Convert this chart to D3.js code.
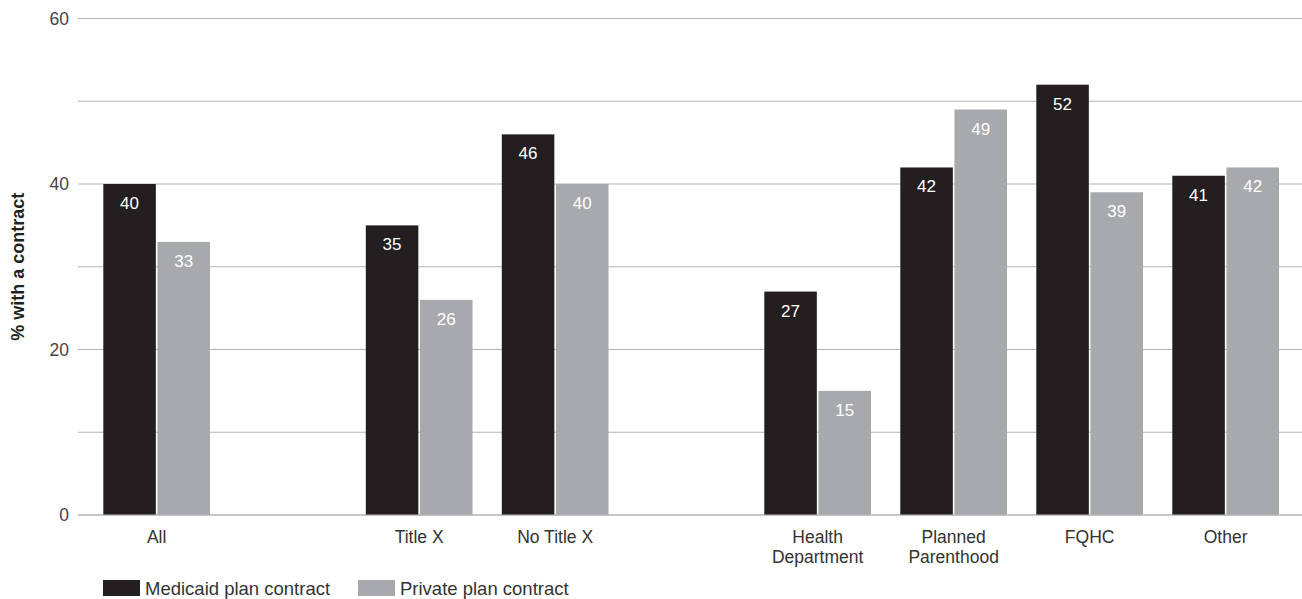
<!DOCTYPE html>
<html>
<head>
<meta charset="utf-8">
<script src="https://cdn.jsdelivr.net/npm/d3@7"></script>
<style>
  html, body { margin: 0; padding: 0; background: #fff; }
  svg { display: block; font-family: "Liberation Sans", Arial, sans-serif; }
</style>
</head>
<body>
<svg id="chart" width="1302" height="599"></svg>
<script>
// ---- data ----
const categories = ["All", "Title X", "No Title X", "Health Department", "Planned Parenthood", "FQHC", "Other"];
const categoryLines = [["All"], ["Title X"], ["No Title X"], ["Health", "Department"], ["Planned", "Parenthood"], ["FQHC"], ["Other"]];
const sectionOf = [0, 1, 1, 2, 2, 2, 2];
const medicaid = [40, 35, 46, 27, 42, 52, 41];
const privatePlan = [33, 26, 40, 15, 49, 39, 42];
const seriesNames = ["Medicaid plan contract", "Private plan contract"];
const seriesColors = ["#231f20", "#a7a9ac"];
const yTicks = [0, 20, 40, 60];
const yGrid = [0, 10, 20, 30, 40, 50, 60];
const yTitle = "% with a contract";

// ---- layout ----
const svg = d3.select("#chart");
const gridLeft = 78, gridRight = 1302;
const y = d3.scaleLinear().domain([0, 60]).range([515, 18.5]);

const step = 136, sectionGap = 126.5, firstX = 103.3, groupW = 106.7;
const band = d3.scaleBand().domain(categories)
  .range([firstX, firstX + step * (categories.length - 1) + groupW])
  .paddingInner((step - groupW) / step).paddingOuter(0).align(0);
const groupX = (i) => band(categories[i]) + sectionOf[i] * sectionGap;
const inner = d3.scaleBand().domain([0, 1]).range([0, band.bandwidth()]).paddingInner(0.03);

// gridlines
svg.append("g").selectAll("line").data(yGrid).join("line")
  .attr("x1", gridLeft).attr("x2", gridRight)
  .attr("y1", d => y(d)).attr("y2", d => y(d))
  .attr("stroke", "#b3b3b3").attr("stroke-width", 1.2);

// y axis labels
const yAxis = d3.axisLeft(y).tickValues(yTicks).tickSize(0).tickPadding(0).tickFormat(d3.format("d"));
const ya = svg.append("g").attr("transform", `translate(${gridLeft - 9},0)`).call(yAxis);
ya.select(".domain").remove();
ya.selectAll("text").attr("font-size", 17.5).attr("fill", "#444").attr("font-family", "Liberation Sans, Arial, sans-serif");

// y title
svg.append("text")
  .attr("transform", `translate(24,${(y(0) + y(60)) / 2}) rotate(-90)`)
  .attr("text-anchor", "middle")
  .attr("font-size", 18).attr("font-weight", "bold").attr("fill", "#222")
  .text(yTitle);

// bars
const series = [medicaid, privatePlan];
series.forEach((vals, s) => {
  const g = svg.append("g");
  g.selectAll("rect").data(vals).join("rect")
    .attr("x", (d, i) => groupX(i) + inner(s))
    .attr("width", inner.bandwidth())
    .attr("y", d => y(d))
    .attr("height", d => y(0) - y(d))
    .attr("fill", seriesColors[s]);
  g.selectAll("text").data(vals).join("text")
    .attr("x", (d, i) => groupX(i) + inner(s) + inner.bandwidth() / 2)
    .attr("y", d => y(d) + 25)
    .attr("text-anchor", "middle")
    .attr("font-size", 17).attr("fill", "#fff")
    .text(d => d);
});

// baseline redraw over bars
svg.append("line").attr("x1", gridLeft).attr("x2", gridRight)
  .attr("y1", y(0)).attr("y2", y(0)).attr("stroke", "#b3b3b3").attr("stroke-width", 1.2);

// category labels
const cl = svg.append("g");
categoryLines.forEach((lines, i) => {
  const cx = groupX(i) + band.bandwidth() / 2;
  const t = cl.append("text")
    .attr("x", cx)
    .attr("y", 543)
    .attr("text-anchor", "middle")
    .attr("font-size", 17.5).attr("fill", "#333");
  lines.forEach((ln, k) => {
    t.append("tspan").attr("x", cx)
      .attr("dy", k === 0 ? 0 : 19.5).text(ln);
  });
});

// legend
const legendX = [103, 358];
const lg = svg.append("g");
seriesNames.forEach((name, s) => {
  lg.append("rect").attr("x", legendX[s]).attr("y", 580).attr("width", 37).attr("height", 16)
    .attr("fill", seriesColors[s]);
  lg.append("text").attr("x", legendX[s] + 42).attr("y", 594.5)
    .attr("font-size", 18.5).attr("fill", "#333").text(name);
});
</script>
</body>
</html>
